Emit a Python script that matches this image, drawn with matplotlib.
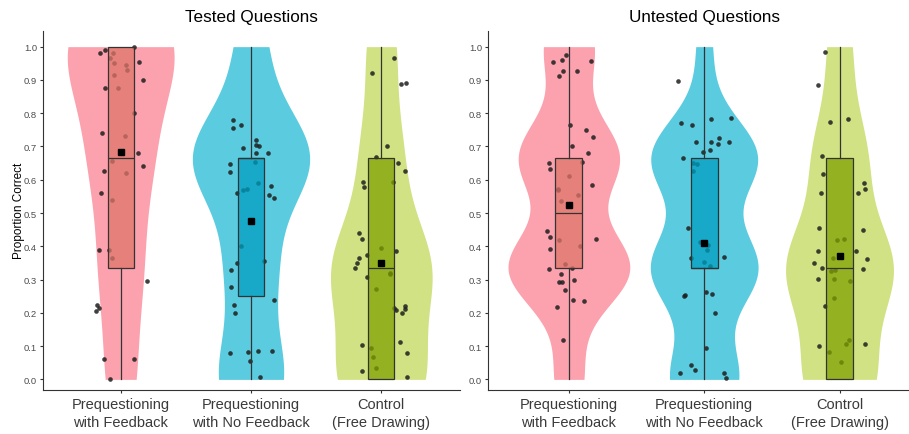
import numpy as np
import matplotlib.pyplot as plt
import matplotlib.colors as mcolors
from matplotlib.ticker import FormatStrFormatter

plt.rcParams['font.family'] = ['Liberation Sans', 'DejaVu Sans']

# possible scores (3 questions each)
LEVELS = np.array([0, 1/3, 2/3, 1])
conditions = ['Prequestioning\nwith Feedback', 'Prequestioning\nwith No Feedback',
              'Control\n(Free Drawing)']

# number of students scoring 0, 1/3, 2/3, 1
tested_fb_counts = [5, 7, 10, 19]
tested_nofb_counts = [11, 8, 20, 5]
tested_ctrl_counts = [15, 17, 7, 5]
untested_fb_counts = [4, 17, 14, 7]
untested_nofb_counts = [9, 14, 14, 2]
untested_ctrl_counts = [12, 18, 9, 4]

# jittered points as they appear (value, horizontal offset)
tested_fb_y = [1.0, 0.98, 0.99, 0.98, 0.965, 0.95, 0.955, 0.945, 0.93, 0.915, 0.90, 0.875, 0.875,
               0.80, 0.74, 0.73, 0.68, 0.655, 0.64, 0.625, 0.62, 0.56, 0.54,
               0.39, 0.39, 0.365, 0.295, 0.225, 0.215, 0.205, 0.06, 0.06, 0.0]
tested_fb_dx = [0.10, -0.16, -0.12, -0.06, -0.08, -0.05, 0.14, 0.04, 0.05, -0.05, 0.17, -0.12, -0.02,
                0.10, -0.14, 0.03, 0.13, -0.07, 0.17, -0.13, 0.04, -0.15, -0.07,
                -0.17, -0.09, -0.07, 0.20, -0.18, -0.17, -0.19, -0.13, 0.10, -0.08]

tested_nofb_y = [0.78, 0.755, 0.765, 0.72, 0.705, 0.70, 0.695, 0.68, 0.68, 0.647, 0.653, 0.623,
                 0.59, 0.57, 0.572, 0.582, 0.56, 0.555, 0.544,
                 0.40, 0.35, 0.355, 0.33, 0.278, 0.24, 0.223, 0.20,
                 0.08, 0.083, 0.085, 0.085, 0.055, 0.008]
tested_nofb_dx = [-0.14, -0.14, -0.08, 0.04, 0.04, 0.06, -0.06, 0.04, 0.13, -0.16, 0.03, -0.16,
                  0.05, -0.06, -0.03, 0.15, -0.11, 0.14, 0.18,
                  -0.08, -0.11, 0.10, -0.15, -0.15, 0.18, -0.13, -0.12,
                  -0.16, -0.02, 0.05, 0.16, -0.01, 0.07]

tested_ctrl_y = [0.965, 0.921, 0.888, 0.892, 0.70, 0.667, 0.651, 0.627, 0.593, 0.578, 0.594,
                 0.44, 0.423, 0.395, 0.386, 0.375, 0.366, 0.351, 0.336, 0.32, 0.317, 0.307,
                 0.272, 0.214, 0.21, 0.222, 0.211, 0.20,
                 0.104, 0.094, 0.111, 0.078, 0.067, 0.024, 0.033, 0.006]
tested_ctrl_dx = [0.10, -0.07, 0.15, 0.19, 0.04, -0.04, 0.13, 0.18, -0.14, -0.13, 0.09,
                  -0.17, -0.15, 0.0, 0.11, -0.11, -0.17, -0.19, -0.20, 0.07, 0.07, -0.11,
                  -0.04, 0.10, 0.11, 0.18, 0.18, 0.16,
                  -0.15, -0.08, 0.14, 0.20, -0.06, -0.15, -0.04, 0.20]

untested_fb_y = [0.954, 0.961, 0.975, 0.957, 0.926, 0.912, 0.928,
                 0.765, 0.749, 0.728, 0.701, 0.68, 0.649, 0.631, 0.653, 0.611, 0.583,
                 0.569, 0.572, 0.535, 0.554,
                 0.445, 0.428, 0.419, 0.421, 0.393, 0.401, 0.347, 0.331, 0.335, 0.316,
                 0.293, 0.294, 0.30, 0.268, 0.24, 0.236, 0.218, 0.119]
untested_fb_dx = [-0.12, -0.05, -0.02, 0.16, -0.04, -0.07, 0.06,
                  0.01, 0.13, 0.18, 0.02, 0.14, -0.15, -0.14, 0.10, 0.0, 0.17,
                  -0.08, -0.08, -0.06, 0.07,
                  -0.16, -0.14, -0.07, 0.20, -0.14, 0.08, -0.03, -0.15, 0.02, -0.06,
                  -0.07, -0.05, 0.04, -0.03, 0.03, 0.11, -0.09, -0.04]

untested_nofb_y = [0.897, 0.77, 0.764, 0.784, 0.786, 0.714, 0.714, 0.725, 0.708, 0.714,
                   0.682, 0.69, 0.666, 0.65, 0.647, 0.627,
                   0.455, 0.412, 0.403, 0.389, 0.364, 0.367, 0.353, 0.34,
                   0.25, 0.255, 0.262, 0.258, 0.20,
                   0.094, 0.042, 0.028, 0.018, 0.019, 0.004]
untested_nofb_dx = [-0.19, -0.17, -0.09, 0.05, 0.20, -0.06, 0.05, 0.11, 0.10, 0.18,
                    -0.01, 0.04, -0.16, -0.08, -0.05, -0.08,
                    -0.12, -0.03, 0.03, 0.02, -0.10, 0.15, 0.0, 0.04,
                    -0.15, -0.14, 0.01, 0.06, 0.08,
                    0.01, -0.10, -0.07, -0.18, 0.15, 0.16]

untested_ctrl_y = [0.985, 0.884, 0.774, 0.783, 0.672, 0.618, 0.591, 0.572, 0.559, 0.561,
                   0.454, 0.45, 0.418, 0.423, 0.387, 0.385, 0.366, 0.351, 0.363, 0.336,
                   0.331, 0.326, 0.33, 0.302, 0.302, 0.296, 0.246, 0.22,
                   0.101, 0.107, 0.117, 0.107, 0.082, 0.051]
untested_ctrl_dx = [-0.11, -0.16, -0.07, 0.06, -0.13, -0.12, 0.18, 0.19, -0.14, 0.14,
                    -0.15, 0.17, -0.02, 0.03, -0.16, 0.12, -0.05, -0.19, 0.20, -0.13,
                    0.17, -0.06, -0.03, -0.16, -0.04, 0.08, -0.04, -0.11,
                    -0.15, 0.19, 0.07, 0.05, -0.08, 0.01]

violin_cols = ['#FBA2AE', '#5BCBDF', '#D0E283']
box_cols = ['#E0756B', '#009EBF', '#80A100']
axis_col = '#333333'
text_col = '#4D4D4D'


def nrd0(x):
    # same rule of thumb R uses for density()
    sd = np.std(x, ddof=1)
    iqr = np.subtract(*np.percentile(x, [75, 25]))
    return 0.9*min(sd, iqr/1.34)*len(x)**-0.2


def kde(x, grid, adjust=1.1):
    bw = nrd0(x)*adjust
    z = (grid[:, None] - x[None, :])/bw
    return np.exp(-0.5*z**2).sum(1)/(len(x)*bw*np.sqrt(2*np.pi))


def panel(ax, counts, ys, dxs, title):
    data = [np.repeat(LEVELS, c) for c in counts]
    grids = [np.linspace(d.min(), d.max(), 300) for d in data]
    dens = [kde(d, g) for d, g in zip(data, grids)]
    dmax = max(d.max() for d in dens)  # area scaling across the panel

    for i in range(3):
        w = 0.45*dens[i]/dmax
        ax.fill_betweenx(grids[i], i+1-w, i+1+w, color=violin_cols[i], lw=0, zorder=1)
        ax.scatter(i+1+np.array(dxs[i]), ys[i], s=11, color='#1E1E1E', alpha=0.85,
                   lw=0, zorder=2)

    bp = ax.boxplot(data, positions=[1, 2, 3], widths=0.2, patch_artist=True,
                    showfliers=False, showcaps=False, showmeans=True, zorder=3,
                    meanprops=dict(marker='s', markerfacecolor='black',
                                   markeredgecolor='black', markersize=5),
                    medianprops=dict(color=axis_col, lw=0.9),
                    whiskerprops=dict(color=axis_col, lw=0.9),
                    boxprops=dict(edgecolor=axis_col, lw=0.9))
    for patch, c in zip(bp['boxes'], box_cols):
        patch.set_facecolor(mcolors.to_rgba(c, 0.75))

    ax.set_xlim(0.4, 3.6)
    ax.set_ylim(-0.031, 1.047)
    ax.set_xticks([1, 2, 3], conditions, linespacing=1.35)
    ax.set_yticks(np.arange(0, 1.01, 0.1))
    ax.yaxis.set_major_formatter(FormatStrFormatter('%.1f'))
    for s in ['top', 'right']:
        ax.spines[s].set_visible(False)
    for s in ['left', 'bottom']:
        ax.spines[s].set_color(axis_col)
        ax.spines[s].set_linewidth(0.8)
    ax.tick_params(axis='y', labelsize=6.8, labelcolor=text_col, color=axis_col,
                   length=2.5, width=0.8, pad=1.5)
    ax.tick_params(axis='x', labelsize=10.5, labelcolor='#3A3A3A', color=axis_col,
                   length=2.5, width=0.8, pad=3)
    ax.set_title(title, fontsize=12.3, pad=7)


fig = plt.figure(figsize=(9.09, 4.35), dpi=100)
ax1 = fig.add_axes([42.5/909, 44.3/435, 417/909, 358.7/435])
ax2 = fig.add_axes([487.7/909, 44.3/435, 433/909, 358.7/435])

panel(ax1, [tested_fb_counts, tested_nofb_counts, tested_ctrl_counts],
      [tested_fb_y, tested_nofb_y, tested_ctrl_y],
      [tested_fb_dx, tested_nofb_dx, tested_ctrl_dx], 'Tested Questions')
panel(ax2, [untested_fb_counts, untested_nofb_counts, untested_ctrl_counts],
      [untested_fb_y, untested_nofb_y, untested_ctrl_y],
      [untested_fb_dx, untested_nofb_dx, untested_ctrl_dx], 'Untested Questions')

ax1.set_ylabel('Proportion Correct', fontsize=8.5, labelpad=-1)

fig.savefig('out.png', dpi=100)
